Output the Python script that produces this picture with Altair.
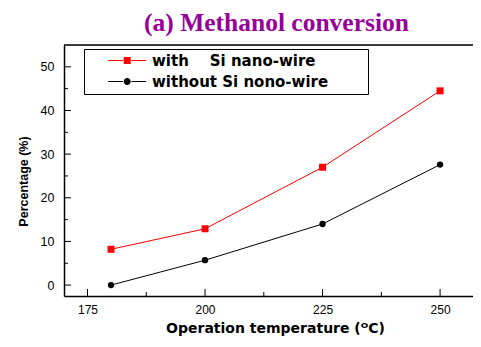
import altair as alt
import pandas as pd

temps = [180, 200, 225, 250]
with_si = [8.2, 12.9, 27.0, 44.5]
without_si = [0.0, 5.7, 14.0, 27.6]
series = ["\u00a0\u00a0\u00a0with\u00a0\u00a0\u00a0\u00a0Si nano-wire\u2800\u2800\u2800",
          "without Si nono-wire\u2800\u2800\u2800"]
colors = ["#ff0000", "#000000"]

x_major = [175, 200, 225, 250]
x_minor = [187.5, 212.5, 237.5]
y_major = [0, 10, 20, 30, 40, 50]
y_minor = [5, 15, 25, 35, 45]

df = pd.DataFrame({
    "temp": temps + temps,
    "value": with_si + without_si,
    "series": [series[0]] * len(temps) + [series[1]] * len(temps),
})

W, H = 409, 251
xs = alt.Scale(domain=[170, 257], nice=False, zero=False)
ys = alt.Scale(domain=[-2.5, 55], nice=False, zero=False)
cs = alt.Scale(domain=series, range=colors)

sq_path = "M2.54,-0.1H5.5V0.1H2.54Z M5.64,-0.7H7.04V0.7H5.64Z M7.2,-0.1H10.14V0.1H7.2Z"
ci_path = ("M2.54,-0.1H5.5V0.1H2.54Z M5.64,0A0.7,0.7,0,1,1,7.04,0A0.7,0.7,0,1,1,5.64,0Z "
           "M7.2,-0.1H10.14V0.1H7.2Z")

lab = "Liberation Sans"
wide = "DejaVu Sans"

xaxis = alt.Axis(values=x_major, ticks=False, domain=True, domainColor="black", domainWidth=1.5,
                 grid=False, labelFont=lab, labelFontSize=12, labelPadding=8, labelColor="black",
                 title="Operation temperature (\u1d3cC)", titleFont=wide, titleFontSize=14,
                 titleFontWeight="bold", titlePadding=6, titleColor="black", titleX=211)
yaxis = alt.Axis(values=y_major, ticks=False, domain=True, domainColor="black", domainWidth=1.5,
                 grid=False, labelFont=lab, labelFontSize=12.5, labelPadding=10, labelColor="black",
                 title="Percentage (%)", titleFont=lab, titleFontSize=12.5,
                 titleFontWeight="bold", titlePadding=10, titleY=136, titleColor="black")

leg = alt.Legend(title=None, orient="none", legendX=20, legendY=4,
                 strokeColor="black", padding=4, rowPadding=5,
                 labelFont=wide, labelFontSize=15, labelFontWeight="bold",
                 labelColor="black", labelOffset=49, symbolSize=100,
                 symbolStrokeWidth=0, labelLimit=400)

base = alt.Chart(df)

line_with = base.transform_filter(alt.datum.series == series[0]).mark_line(
    strokeWidth=1, color=colors[0]).encode(
    x=alt.X("temp:Q", scale=xs, axis=xaxis),
    y=alt.Y("value:Q", scale=ys, axis=yaxis),
)
line_without = base.transform_filter(alt.datum.series == series[1]).mark_line(
    strokeWidth=1, color=colors[1]).encode(x="temp:Q", y="value:Q")

squares = base.transform_filter(alt.datum.series == series[0]).mark_square(
    size=49, opacity=1, color=colors[0]).encode(x="temp:Q", y="value:Q")
circles = base.transform_filter(alt.datum.series == series[1]).mark_circle(
    size=40, opacity=1, color=colors[1]).encode(x="temp:Q", y="value:Q")

legend_layer = base.transform_filter("false").mark_point(filled=True, opacity=1, size=100).encode(
    x="temp:Q", y="value:Q",
    color=alt.Color("series:N", scale=cs, legend=leg),
    shape=alt.Shape("series:N", scale=alt.Scale(domain=series, range=[sq_path, ci_path]), legend=leg),
)

top_border = alt.Chart(pd.DataFrame({"v": [0]})).mark_rule(color="black", strokeWidth=1.5).encode(
    y=alt.value(0), x=alt.value(0), x2=alt.value(W))

ymaj = alt.Chart(pd.DataFrame({"v": y_major})).mark_rule(color="black", strokeWidth=1).encode(
    y="v:Q", x=alt.value(0), x2=alt.value(7))
ymin = alt.Chart(pd.DataFrame({"v": y_minor})).mark_rule(color="black", strokeWidth=1).encode(
    y="v:Q", x=alt.value(0), x2=alt.value(4))
xmaj = alt.Chart(pd.DataFrame({"v": x_major})).mark_rule(color="black", strokeWidth=1).encode(
    x="v:Q", y=alt.value(H), y2=alt.value(H - 7))
xmin = alt.Chart(pd.DataFrame({"v": x_minor})).mark_rule(color="black", strokeWidth=1).encode(
    x="v:Q", y=alt.value(H), y2=alt.value(H - 4))

chart = alt.layer(line_with, line_without, squares, circles, legend_layer, top_border,
                  ymaj, ymin, xmaj, xmin).properties(
    width=W, height=H,
    autosize=alt.AutoSizeParams(type="none"),
    padding={"left": 56, "top": 37, "right": 0, "bottom": 43},
    title=alt.TitleParams("(a) Methanol conversion", font="Liberation Serif", fontSize=25.5,
                          fontWeight="bold", color="#990099", anchor="middle", frame="group",
                          offset=8, dx=8),
).configure_view(stroke=None).configure(background="white")

chart.save("out.html", embed_options={"renderer": "svg", "actions": False})
